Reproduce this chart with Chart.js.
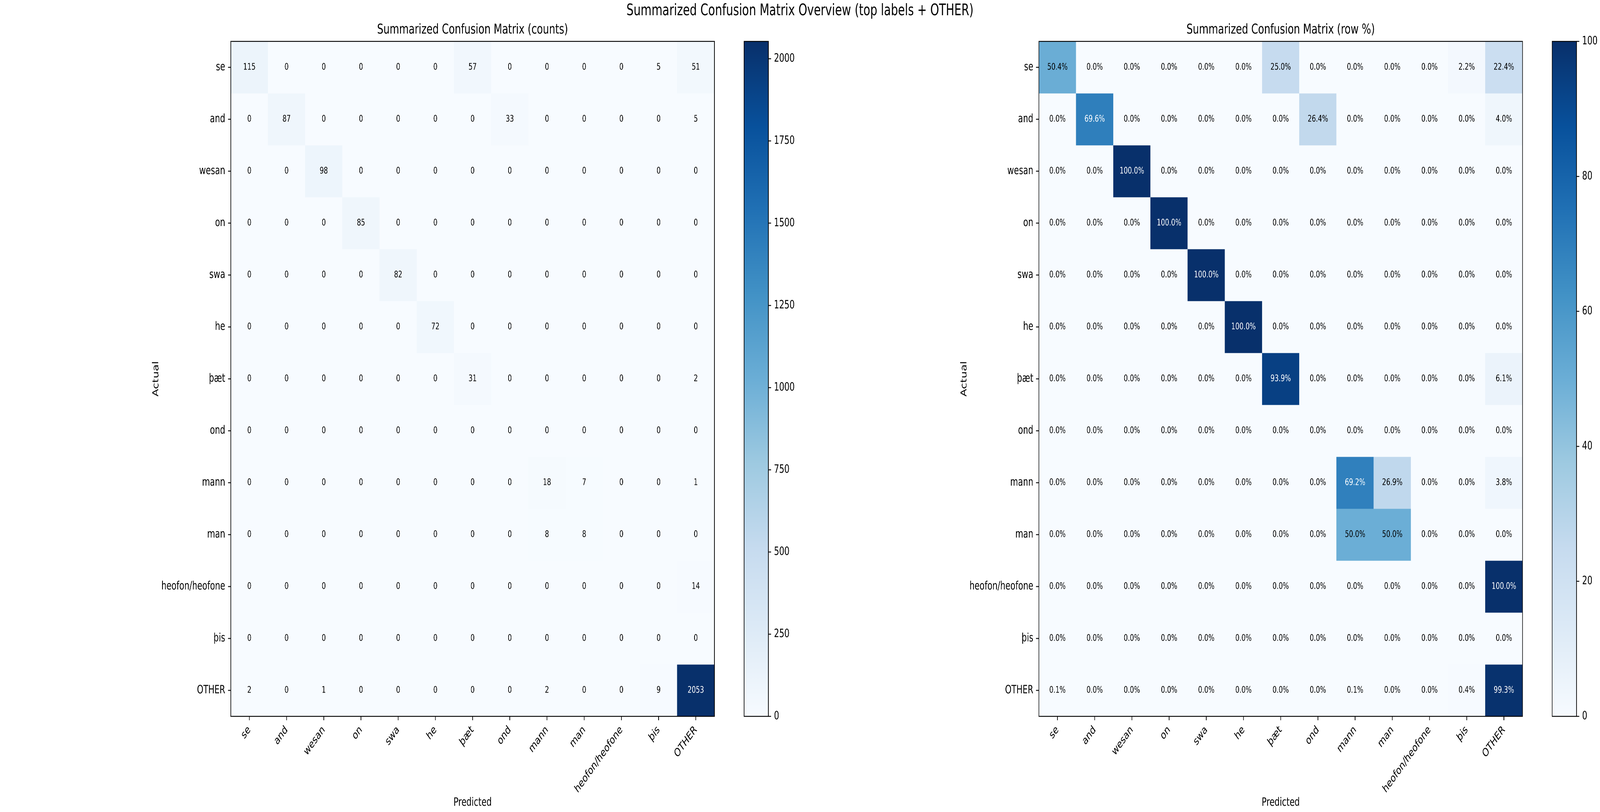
<!DOCTYPE html>
<html>
<head>
<meta charset="utf-8">
<script src="https://cdn.jsdelivr.net/npm/chart.js@4.4.1/dist/chart.umd.min.js"></script>
<style>
html,body{margin:0;padding:0;background:#fff;overflow:hidden;}
#stage{position:absolute;left:0;top:0;width:5720px;height:2080px;transform-origin:0 0;}
canvas{position:absolute;top:0;}
#sup{position:absolute;left:0;top:1px;width:5720px;text-align:center;font-family:'DejaVu Sans';font-size:40px;line-height:48px;color:#000;white-space:nowrap;}
</style>
</head>
<body>
<div id="stage">
<div id="sup">Summarized Confusion Matrix Overview (top labels + OTHER)</div>
<canvas id="hm1" width="2600" height="2080" style="left:0px"></canvas>
<canvas id="cb1" width="260" height="2080" style="left:2600px"></canvas>
<canvas id="hm2" width="2600" height="2080" style="left:2889px"></canvas>
<canvas id="cb2" width="231" height="2080" style="left:5489px"></canvas>
</div>
<script>
// ---------- data ----------
const actualLabels = ['se','and','wesan','on','swa','he','þæt','ond','mann','man','heofon/heofone','þis','OTHER'];
const predictedLabels = ['se','and','wesan','on','swa','he','þæt','ond','mann','man','heofon/heofone','þis','OTHER'];

// counts, one array per actual row
const countSe     = [115, 0, 0, 0, 0, 0, 57, 0, 0, 0, 0, 5, 51];
const countAnd    = [0, 87, 0, 0, 0, 0, 0, 33, 0, 0, 0, 0, 5];
const countWesan  = [0, 0, 98, 0, 0, 0, 0, 0, 0, 0, 0, 0, 0];
const countOn     = [0, 0, 0, 85, 0, 0, 0, 0, 0, 0, 0, 0, 0];
const countSwa    = [0, 0, 0, 0, 82, 0, 0, 0, 0, 0, 0, 0, 0];
const countHe     = [0, 0, 0, 0, 0, 72, 0, 0, 0, 0, 0, 0, 0];
const countThaet  = [0, 0, 0, 0, 0, 0, 31, 0, 0, 0, 0, 0, 2];
const countOnd    = [0, 0, 0, 0, 0, 0, 0, 0, 0, 0, 0, 0, 0];
const countMann   = [0, 0, 0, 0, 0, 0, 0, 0, 18, 7, 0, 0, 1];
const countMan    = [0, 0, 0, 0, 0, 0, 0, 0, 8, 8, 0, 0, 0];
const countHeofon = [0, 0, 0, 0, 0, 0, 0, 0, 0, 0, 0, 0, 14];
const countThis   = [0, 0, 0, 0, 0, 0, 0, 0, 0, 0, 0, 0, 0];
const countOther  = [2, 0, 1, 0, 0, 0, 0, 0, 2, 0, 0, 9, 2053];

// row percentages, one array per actual row
const pctSe     = [50.4, 0, 0, 0, 0, 0, 25.0, 0, 0, 0, 0, 2.2, 22.4];
const pctAnd    = [0, 69.6, 0, 0, 0, 0, 0, 26.4, 0, 0, 0, 0, 4.0];
const pctWesan  = [0, 0, 100, 0, 0, 0, 0, 0, 0, 0, 0, 0, 0];
const pctOn     = [0, 0, 0, 100, 0, 0, 0, 0, 0, 0, 0, 0, 0];
const pctSwa    = [0, 0, 0, 0, 100, 0, 0, 0, 0, 0, 0, 0, 0];
const pctHe     = [0, 0, 0, 0, 0, 100, 0, 0, 0, 0, 0, 0, 0];
const pctThaet  = [0, 0, 0, 0, 0, 0, 93.9, 0, 0, 0, 0, 0, 6.1];
const pctOnd    = [0, 0, 0, 0, 0, 0, 0, 0, 0, 0, 0, 0, 0];
const pctMann   = [0, 0, 0, 0, 0, 0, 0, 0, 69.2, 26.9, 0, 0, 3.8];
const pctMan    = [0, 0, 0, 0, 0, 0, 0, 0, 50.0, 50.0, 0, 0, 0];
const pctHeofon = [0, 0, 0, 0, 0, 0, 0, 0, 0, 0, 0, 0, 100];
const pctThis   = [0, 0, 0, 0, 0, 0, 0, 0, 0, 0, 0, 0, 0];
const pctOther  = [0.1, 0, 0.0, 0, 0, 0, 0, 0, 0.1, 0, 0, 0.4, 99.3];

const countTicks = [0, 250, 500, 750, 1000, 1250, 1500, 1750, 2000];
const pctTicks = [0, 20, 40, 60, 80, 100];

const countRows = [countSe, countAnd, countWesan, countOn, countSwa, countHe, countThaet, countOnd, countMann, countMan, countHeofon, countThis, countOther];
const pctRows = [pctSe, pctAnd, pctWesan, pctOn, pctSwa, pctHe, pctThaet, pctOnd, pctMann, pctMan, pctHeofon, pctThis, pctOther];

// ---------- fit the 5720x2080 design to the actual window ----------
const SX = window.innerWidth / 5720, SY = window.innerHeight / 2080;
document.getElementById('stage').style.transform = `scale(${SX},${SY})`;
const DPR = 2;

// ---------- colormap (matplotlib Blues) ----------
const bluesStops = ['#f7fbff','#deebf7','#c6dbef','#9ecae1','#6baed6','#4292c6','#2171b5','#08519c','#08306b'];
function hexRgb(h){ return [parseInt(h.slice(1,3),16), parseInt(h.slice(3,5),16), parseInt(h.slice(5,7),16)]; }
function bluesRgb(t){
  t = Math.min(1, Math.max(0, t));
  const s = t * (bluesStops.length - 1);
  const i = Math.min(bluesStops.length - 2, Math.floor(s));
  const f = s - i;
  const a = hexRgb(bluesStops[i]), b = hexRgb(bluesStops[i+1]);
  return a.map((v, k) => Math.round(v + (b[k] - v) * f));
}
function blues(t){ const c = bluesRgb(t); return `rgb(${c[0]},${c[1]},${c[2]})`; }
function lum(t){
  const c = bluesRgb(t).map(v => { v /= 255; return v <= 0.03928 ? v / 12.92 : Math.pow((v + 0.055) / 1.055, 2.4); });
  return 0.2126 * c[0] + 0.7152 * c[1] + 0.0722 * c[2];
}

const FONT = 'DejaVu Sans';
Chart.defaults.font.family = FONT;
Chart.defaults.color = '#000';

const frame = {
  id: 'frame',
  afterDraw(chart){
    const {ctx, chartArea: a} = chart;
    ctx.save();
    ctx.strokeStyle = '#000';
    ctx.lineWidth = 2.3;
    ctx.strokeRect(a.left, a.top, a.right - a.left, a.bottom - a.top);
    ctx.restore();
  }
};

function annotations(values, fmt, vmax){
  return {
    id: 'annot',
    afterDatasetsDraw(chart){
      const {ctx, scales: {x, y}} = chart;
      ctx.save();
      ctx.font = `23px '${FONT}'`;
      ctx.textAlign = 'center';
      ctx.textBaseline = 'middle';
      values.forEach((row, r) => {
        row.forEach((v, c) => {
          ctx.fillStyle = lum(v / vmax) < 0.3 ? '#fff' : '#000';
          ctx.fillText(fmt(v), x.getPixelForValue(c), y.getPixelForValue(r + 0.5));
        });
      });
      ctx.restore();
    }
  };
}

function heatmap(id, values, fmt, title){
  const vmax = Math.max(...values.flat());
  const datasets = actualLabels.map((name, r) => ({
    label: name,
    data: predictedLabels.map(() => [r, r + 1]),
    backgroundColor: values[r].map(v => blues(v / vmax)),
    borderWidth: 0,
    grouped: false,
    barPercentage: 1,
    categoryPercentage: 1
  }));
  const tickGrid = {drawOnChartArea: false, tickLength: 10, tickWidth: 2.3, color: '#000'};
  return new Chart(document.getElementById(id), {
    type: 'bar',
    data: {labels: predictedLabels, datasets},
    options: {
      responsive: false, animation: false, devicePixelRatio: DPR, events: [],
      layout: {padding: {left: 0, top: 0, right: 46, bottom: 0}},
      plugins: {
        legend: {display: false},
        tooltip: {enabled: false},
        title: {display: true, text: title, fullSize: false, color: '#000',
                font: {size: 35, weight: 'normal'}, padding: {top: 56, bottom: 8}}
      },
      scales: {
        x: {
          type: 'category', offset: true,
          grid: Object.assign({offset: false}, tickGrid),
          border: {display: false},
          ticks: {minRotation: 45, maxRotation: 45, autoSkip: false, font: {size: 29}, color: '#000', padding: 8},
          title: {display: true, text: 'Predicted', font: {size: 29}, color: '#000', padding: {top: 0, bottom: 6}},
          afterFit: s => { s.height = 245; }
        },
        y: {
          type: 'linear', min: 0, max: actualLabels.length, reverse: true,
          grid: tickGrid,
          border: {display: false},
          afterBuildTicks: s => { s.ticks = actualLabels.map((_, i) => ({value: i + 0.5})); },
          ticks: {autoSkip: false, font: {size: 29}, color: '#000', padding: 10,
                  callback: v => actualLabels[Math.floor(v)]},
          title: {display: true, text: 'Actual', font: {size: 29}, color: '#000', padding: {top: 541, bottom: 0}},
          afterFit: s => { s.width = 825; }
        }
      }
    },
    plugins: [frame, annotations(values, fmt, vmax)]
  });
}

function colorbar(id, vmax, tickVals, axisWidth){
  return new Chart(document.getElementById(id), {
    type: 'bar',
    data: {labels: [''], datasets: [{
      data: [[0, vmax]],
      borderWidth: 0, barPercentage: 1, categoryPercentage: 1,
      backgroundColor: (ctx) => {
        const a = ctx.chart.chartArea;
        if (!a) return blues(1);
        const g = ctx.chart.ctx.createLinearGradient(0, a.bottom, 0, a.top);
        bluesStops.forEach((h, i) => g.addColorStop(i / (bluesStops.length - 1), h));
        return g;
      }
    }]},
    options: {
      responsive: false, animation: false, devicePixelRatio: DPR, events: [],
      layout: {padding: {left: 60, top: 106, bottom: 245, right: 0}},
      plugins: {legend: {display: false}, tooltip: {enabled: false}},
      scales: {
        x: {display: false},
        y: {
          position: 'right', min: 0, max: vmax,
          grid: {drawOnChartArea: false, tickLength: 10, tickWidth: 2.3, color: '#000'},
          border: {display: false},
          afterBuildTicks: s => { s.ticks = tickVals.map(v => ({value: v})); },
          ticks: {font: {size: 29}, color: '#000', padding: 10, callback: v => String(v)},
          afterFit: s => { s.width = axisWidth; }
        }
      }
    },
    plugins: [frame]
  });
}

heatmap('hm1', countRows, v => String(v), 'Summarized Confusion Matrix (counts)');
heatmap('hm2', pctRows, v => v.toFixed(1) + '%', 'Summarized Confusion Matrix (row %)');
colorbar('cb1', Math.max(...countRows.flat()), countTicks, 113);
colorbar('cb2', Math.max(...pctRows.flat()), pctTicks, 84);
</script>
</body>
</html>
